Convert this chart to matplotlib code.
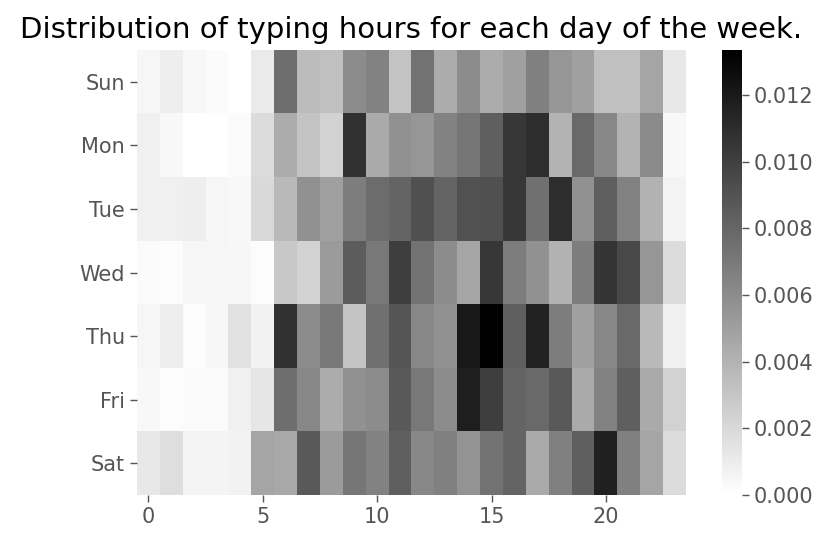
import matplotlib
matplotlib.use("Agg")
import matplotlib.pyplot as plt
import numpy as np

days = ["Sun", "Mon", "Tue", "Wed", "Thu", "Fri", "Sat"]
hours = list(range(24))

sun = [0.00052, 0.00089, 0.00037, 0.00026, 0.00005, 0.00110, 0.00759, 0.00351, 0.00330, 0.00602, 0.00654, 0.00314,
       0.00733, 0.00435, 0.00602, 0.00435, 0.00497, 0.00665, 0.00550, 0.00497, 0.00330, 0.00330, 0.00471, 0.00120]
mon = [0.00079, 0.00037, 0.00005, 0.00000, 0.00026, 0.00183, 0.00435, 0.00314, 0.00236, 0.01073, 0.00445, 0.00576,
       0.00550, 0.00654, 0.00717, 0.00838, 0.01047, 0.01099, 0.00393, 0.00785, 0.00628, 0.00393, 0.00612, 0.00037]
tue = [0.00079, 0.00079, 0.00089, 0.00047, 0.00037, 0.00199, 0.00366, 0.00576, 0.00497, 0.00681, 0.00770, 0.00811,
       0.00916, 0.00811, 0.00906, 0.00916, 0.01047, 0.00749, 0.01099, 0.00576, 0.00838, 0.00654, 0.00403, 0.00063]
wed = [0.00026, 0.00016, 0.00052, 0.00052, 0.00042, 0.00016, 0.00288, 0.00236, 0.00524, 0.00853, 0.00707, 0.01010,
       0.00733, 0.00602, 0.00471, 0.01047, 0.00681, 0.00576, 0.00403, 0.00681, 0.01063, 0.00958, 0.00550, 0.00183]
thu = [0.00052, 0.00089, 0.00016, 0.00042, 0.00157, 0.00068, 0.01073, 0.00602, 0.00707, 0.00314, 0.00749, 0.00890,
       0.00628, 0.00576, 0.01204, 0.01335, 0.00838, 0.01152, 0.00681, 0.00497, 0.00628, 0.00785, 0.00366, 0.00079]
fri = [0.00037, 0.00016, 0.00026, 0.00026, 0.00079, 0.00131, 0.00759, 0.00628, 0.00435, 0.00576, 0.00602, 0.00864,
       0.00707, 0.00602, 0.01178, 0.01010, 0.00811, 0.00785, 0.00864, 0.00445, 0.00654, 0.00838, 0.00445, 0.00236]
sat = [0.00120, 0.00173, 0.00058, 0.00058, 0.00068, 0.00471, 0.00455, 0.00864, 0.00524, 0.00717, 0.00654, 0.00838,
       0.00628, 0.00665, 0.00560, 0.00733, 0.00811, 0.00445, 0.00665, 0.00838, 0.01167, 0.00665, 0.00471, 0.00183]

data = np.array([sun, mon, tue, wed, thu, fri, sat])
cbar_ticks = [0, 0.002, 0.004, 0.006, 0.008, 0.010, 0.012]

TICK_COLOR = "#555555"
plt.rcParams["font.family"] = ["DejaVu Sans"]

fig = plt.figure(figsize=(8.31, 5.45), dpi=100)
ax = fig.add_axes([0.1649, 0.0917, 0.6606, 0.8165])
cax = fig.add_axes([0.8688, 0.0917, 0.0241, 0.8165])

im = ax.imshow(data, cmap="binary", aspect="auto", vmin=0, vmax=data.max(),
               interpolation="nearest")
ax.set_yticks(range(len(days)))
ax.set_yticklabels(days)
ax.set_xticks([0, 5, 10, 15, 20])
for s in ax.spines.values():
    s.set_visible(False)
ax.tick_params(colors=TICK_COLOR, labelsize=15, length=5, width=1)
ax.set_title("Distribution of typing hours for each day of the week.", fontsize=21, pad=9)

cb = fig.colorbar(im, cax=cax, ticks=cbar_ticks)
cb.outline.set_visible(False)
cb.ax.set_yticklabels([f"{t:.3f}" for t in cbar_ticks])
cax.tick_params(colors=TICK_COLOR, labelsize=15, length=5, width=1)

fig.savefig("out.png", dpi=100)
